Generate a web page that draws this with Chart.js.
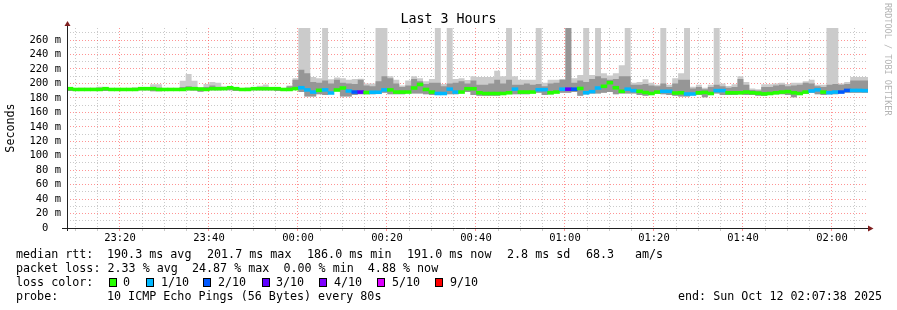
<!DOCTYPE html>
<html>
<head>
<meta charset="utf-8">
<script src="https://cdn.jsdelivr.net/npm/chart.js@4/dist/chart.umd.min.js"></script>
<style>
  html, body { margin: 0; padding: 0; background: #ffffff; }
  #wrap { position: relative; width: 897px; height: 310px; overflow: hidden; background: #ffffff; }
  #c { position: absolute; left: 0; top: 0; }
  .t { position: absolute; font-family: 'DejaVu Sans Mono', monospace; font-size: 11.7px; line-height: 14px; color: #000; white-space: pre; }
  .box { position: absolute; width: 6px; height: 7px; border: 1px solid #000; }
  #title { position: absolute; left: 0; width: 897px; top: 11px; text-align: center; font-family: 'DejaVu Sans Mono', monospace; font-size: 13.3px; line-height: 16px; color: #000; }
  #wm { position: absolute; left: 882px; top: 3px; writing-mode: vertical-rl; font-family: 'DejaVu Sans Mono', monospace; font-size: 8.5px; line-height: 11px; color: #b4b4b4; white-space: pre; }
</style>
</head>
<body>
<div id="wrap">
  <canvas id="c" width="897" height="310"></canvas>
  <div id="title">Last 3 Hours</div>
  <div id="wm">RRDTOOL / TOBI OETIKER</div>

  <div class="t" style="left:16px;top:247px">median rtt:</div>
  <div class="t" style="left:107px;top:247px">190.3 ms avg</div>
  <div class="t" style="left:207px;top:247px">201.7 ms max</div>
  <div class="t" style="left:307px;top:247px">186.0 ms min</div>
  <div class="t" style="left:407px;top:247px">191.0 ms now</div>
  <div class="t" style="left:507px;top:247px">2.8 ms sd</div>
  <div class="t" style="left:586px;top:247px">68.3</div>
  <div class="t" style="left:635px;top:247px">am/s</div>

  <div class="t" style="left:16px;top:261px">packet loss: 2.33 % avg  24.87 % max  0.00 % min  4.88 % now</div>

  <div class="t" style="left:16px;top:275px">loss color:</div>
  <div id="legendBoxes"></div>

  <div class="t" style="left:16px;top:289px">probe:</div>
  <div class="t" style="left:107px;top:289px">10 ICMP Echo Pings (56 Bytes) every 80s</div>
  <div class="t" style="left:678px;top:289px">end: Sun Oct 12 02:07:38 2025</div>
</div>
<script>
// ---------- time grid (minutes relative to 00:00) ----------
const firstSampleMin = -51.9;      // 23:08:06
const sampleStepMin = 80 / 60;     // 80 s step
const axisEndMin = 128.1;          // 02:08:06
const yMaxMs = 276.6;

// ---------- data (ms) ----------
const medianMs = [
  192.7,191.6,191.6,191.6,191.6,191.6,192.7,191.6,191.6,191.6,
  191.6,191.6,192.7,192.7,192.7,191.6,191.6,191.6,191.6,191.6,
  192.7,192.7,192.2,191.6,192.7,192.7,192.7,194.0,192.7,191.6,
  191.6,192.7,192.7,192.7,192.7,192.7,191.6,191.6,192.7,194.0,
  191.0,188.0,190.4,191.0,186.7,190.9,193.6,189.5,188.0,188.0,
  187.4,187.7,187.7,191.0,191.0,188.0,188.0,188.0,193.6,198.5,
  191.6,188.0,186.0,186.0,192.0,188.0,188.0,192.6,192.6,187.0,
  186.0,186.0,186.0,186.0,187.0,192.0,188.0,188.0,188.0,191.3,
  191.3,187.0,188.0,192.0,192.0,192.0,193.0,187.0,188.6,193.6,
  196.0,201.0,194.0,189.0,192.0,190.0,189.0,187.4,186.0,188.0,
  189.0,189.0,186.7,187.0,185.3,185.3,187.0,187.5,186.0,190.0,
  190.0,187.0,187.0,187.0,188.0,187.0,186.5,185.5,186.0,187.0,
  188.0,188.6,187.0,186.0,188.0,189.5,191.0,188.0,187.1,188.0,
  188.0,190.3,190.3,190.3,190.0
];
const lossTenths = [
  0,0,0,0,0,0,0,0,0,0,
  0,0,0,0,0,0,0,0,0,0,
  0,0,0,0,0,0,0,0,0,0,
  0,0,0,0,0,0,0,0,0,1,
  1,1,0,1,1,0,0,1,2,3,
  0,1,1,1,0,0,0,0,0,0,
  0,0,1,1,1,1,0,0,0,0,
  0,0,0,0,0,1,0,0,0,1,
  1,0,0,1,3,2,0,1,1,1,
  0,0,0,0,1,1,0,0,0,0,
  1,1,0,0,1,1,0,0,0,1,
  1,0,0,0,0,0,0,0,0,0,
  0,0,0,0,0,1,1,0,1,1,
  2,2,1,1,1
];
const smokeMaxMs = [
  200,193.5,193,194,194,194,195.5,193,193,193,
  193,193,194,194,194.5,198.7,198.7,193,193,193,
  203.7,213,203.7,194.5,199.2,202,201,195.5,194,193,
  193,194,194,196.9,198.3,195,193,193,197,207,
  290,290,209,207,290,205.6,208,207,205,206,
  206.5,200,200,290,290,210,205,197,204,210,
  207,203,206,290,199,290,206,207,204.7,210,
  209,209,209,217.6,210,290,210,205,205,205,
  290,201,205,205,206,290,207,211.6,290,211.6,
  290,214,211,214,225,290,201,202,205.6,201,
  198,290,198,207,214,290,195.4,198,194,198,
  290,200,196.4,198.7,210,202,193,192,198.7,198.7,
  200,201,199,201,201,203,205,198,198,290,
  290,200,202,209,209
];
const smokeHiMs = [
  194.5,193,193,193,193,193,194,193,193,193,
  193,193,194,194,194,194,194,193,193,193,
  195,196,195,193.5,195,197,195,195.5,194,193,
  193,194,194,194.5,195,194,193,193,196,205,
  219,214,202,201,204,200,205,201,200,199,
  205,197,196,203,210,207,200,195,197,206,
  203,199,201,201,196,200,201,203,200,204,
  198,198,200,205,200,205,198,198,200,198,
  199,196,200,201,205,290,201,204,202,206,
  210,207,205,206,210,210,198,198,199,197,
  196,200,195,200,205,205,193,195,192,195,
  198,196,194,195,206,198,191,190,195,195,
  197,198,196,197,198,201,200,196,195,198,
  199,198,199,204,204
];
const smokeMinMs = [
  190,189.5,189.5,189.5,189.5,189.5,190,189.5,189.5,189.5,
  189.5,189.5,190.5,190.5,190.5,189,189,189.5,189.5,189.5,
  190.5,190.5,190,188.5,190.5,190.5,190.5,191.5,190.5,189.5,
  189.5,190.5,190.5,190.5,190.5,190.5,189.5,189.5,190.5,191,
  188,182,182,185,184,187,189,182,182,184,
  185,185,185,186,187,185,185,185,189,186,
  186,185,184,184,188,185,185,188,188,184,
  183,183,183,183,184,187,185,185,185,187,
  187,184,185,188,187,187,188,183,185,186,
  186,187,188,185,186,186,186,184,183,185,
  186,185,184,183,182,182,184,184,181,186,
  186,184,184,184,185,184,184,183,183,184,
  185,185,184,181,185,186,187,185,184,185,
  185,187,187,187,187
];

// ---------- styles ----------
const lossColor = { 0:'#26ff00', 1:'#00b8ff', 2:'#0059ff', 3:'#5e00ff', 4:'#7e00ff', 5:'#dd00ff', 9:'#ff0000' };
const legendLoss = [
  { v: 0, label: '0',    bx: 109, lx: 123 },
  { v: 1, label: '1/10', bx: 146, lx: 161 },
  { v: 2, label: '2/10', bx: 203, lx: 218 },
  { v: 3, label: '3/10', bx: 262, lx: 276 },
  { v: 4, label: '4/10', bx: 319, lx: 334 },
  { v: 5, label: '5/10', bx: 377, lx: 392 },
  { v: 9, label: '9/10', bx: 435, lx: 450 }
];
const lb = document.getElementById('legendBoxes');
legendLoss.forEach(e => {
  const b = document.createElement('div');
  b.className = 'box';
  b.style.left = e.bx + 'px'; b.style.top = '278px';
  b.style.background = lossColor[e.v];
  lb.appendChild(b);
  const t = document.createElement('div');
  t.className = 't';
  t.style.left = e.lx + 'px'; t.style.top = '275px';
  t.textContent = e.label;
  lb.appendChild(t);
});

// ---------- build chart data ----------
const n = medianMs.length;
const startT = i => firstSampleMin + i * sampleStepMin;
function stepSeries(arr) {
  const pts = arr.map((v, i) => ({ x: startT(i), y: v }));
  pts.push({ x: axisEndMin, y: arr[n - 1] });
  return pts;
}
const medianBars = medianMs.map((v, i) => ({ x: startT(i) + sampleStepMin / 2, y: [v - 2.0, v + 2.0] }));

function isMult(v, m) { return Math.abs(v / m - Math.round(v / m)) < 1e-6; }
function fmtTime(v) {
  const m = ((Math.round(v) % 1440) + 1440) % 1440;
  const hh = Math.floor(m / 60), mm = m % 60;
  return String(hh).padStart(2, '0') + ':' + String(mm).padStart(2, '0');
}
function gridTicks(step) {
  return s => {
    const t = [];
    for (let k = Math.ceil(s.min / step); k * step <= s.max + 1e-9; k++) t.push({ value: k * step });
    s.ticks = t;
  };
}

const MAJOR = 'rgba(255,60,60,0.55)';
const MINOR = 'rgba(150,150,150,0.5)';

const axisDeco = {
  id: 'axisDeco',
  afterDatasetsDraw(chart) {
    const { ctx, chartArea: a } = chart;
    ctx.save();
    ctx.strokeStyle = '#202020';
    ctx.lineWidth = 1;
    ctx.beginPath();
    ctx.moveTo(a.left - 5, a.bottom + 0.5);
    ctx.lineTo(a.right + 1, a.bottom + 0.5);
    ctx.moveTo(a.left + 0.5, a.bottom + 3);
    ctx.lineTo(a.left + 0.5, a.top - 5);
    ctx.stroke();
    ctx.fillStyle = '#7f1f1f';
    ctx.beginPath();
    ctx.moveTo(a.left + 0.5, a.top - 7);
    ctx.lineTo(a.left - 2.5, a.top - 2);
    ctx.lineTo(a.left + 3.5, a.top - 2);
    ctx.closePath();
    ctx.fill();
    ctx.beginPath();
    ctx.moveTo(a.right + 5.5, a.bottom + 0.5);
    ctx.lineTo(a.right, a.bottom - 2.5);
    ctx.lineTo(a.right, a.bottom + 3.5);
    ctx.closePath();
    ctx.fill();
    ctx.restore();
  }
};

new Chart(document.getElementById('c'), {
  type: 'line',
  data: {
    datasets: [
      { type: 'bar', label: 'median', data: medianBars, order: 0, xAxisID: 'xb',
        backgroundColor: ctx => lossColor[lossTenths[ctx.dataIndex]] || '#26ff00',
        borderWidth: 0, barPercentage: 1, categoryPercentage: 1 },
      { label: 'min', data: stepSeries(smokeMinMs), order: 5, stepped: 'after',
        borderWidth: 0, borderColor: 'rgba(0,0,0,0)', pointRadius: 0, fill: false },
      { label: 'max', data: stepSeries(smokeMaxMs), order: 4, stepped: 'after',
        borderWidth: 0, borderColor: 'rgba(0,0,0,0)', pointRadius: 0,
        fill: { target: 1 }, backgroundColor: '#cbcbcb' },
      { label: 'hi', data: stepSeries(smokeHiMs), order: 3, stepped: 'after',
        borderWidth: 0, borderColor: 'rgba(0,0,0,0)', pointRadius: 0,
        fill: { target: 1 }, backgroundColor: '#969696' }
    ]
  },
  options: {
    responsive: false,
    animation: false,
    devicePixelRatio: 1,
    layout: { padding: { left: 0, top: 28, right: 29, bottom: 0 } },
    plugins: { legend: { display: false }, tooltip: { enabled: false }, title: { display: false } },
    scales: {
      xb: {
        type: 'linear', position: 'bottom', display: false,
        min: firstSampleMin, max: axisEndMin, offset: false
      },
      x: {
        type: 'linear', position: 'bottom', min: firstSampleMin, max: axisEndMin, offset: false,
        afterFit: s => { s.height = 82; },
        afterBuildTicks: gridTicks(5),
        ticks: {
          autoSkip: false, maxRotation: 0, padding: 1,
          font: { family: 'DejaVu Sans Mono', size: 10.5 }, color: '#000',
          callback: v => isMult(v, 20) ? fmtTime(v) : ''
        },
        grid: {
          offset: false,
          color: c => (c.tick && isMult(c.tick.value, 20)) ? MAJOR : MINOR,
          tickColor: c => (c.tick && isMult(c.tick.value, 20)) ? MAJOR : MINOR,
          tickLength: 3, drawTicks: true, lineWidth: 1
        },
        border: { display: false, dash: [1, 2] }
      },
      y: {
        type: 'linear', min: 0, max: yMaxMs,
        afterFit: s => { s.width = 67; },
        afterBuildTicks: gridTicks(10),
        ticks: {
          autoSkip: false, padding: 6,
          font: { family: 'DejaVu Sans Mono', size: 10.5 }, color: '#000',
          callback: v => isMult(v, 20) ? (v === 0 ? '0  ' : Math.round(v) + ' m') : ''
        },
        grid: {
          offset: false,
          color: c => (c.tick && isMult(c.tick.value, 20)) ? MAJOR : MINOR,
          drawTicks: false, lineWidth: 1
        },
        border: { display: false, dash: [1, 2] },
        title: { display: true, text: 'Seconds', color: '#000',
          font: { family: 'DejaVu Sans Mono', size: 11.7 }, padding: { top: 4, bottom: 0 } }
      }
    }
  },
  plugins: [axisDeco]
});
</script>
</body>
</html>
